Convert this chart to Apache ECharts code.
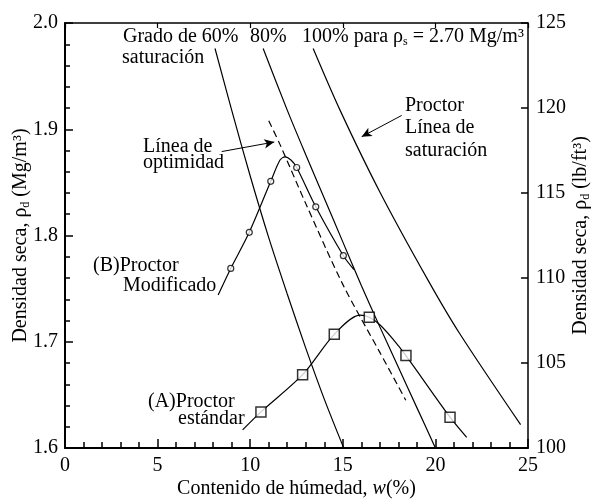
<!DOCTYPE html>
<html>
<head>
<meta charset="utf-8">
<script src="https://cdn.jsdelivr.net/npm/echarts@6/dist/echarts.min.js"></script>
<style>
  html, body { margin: 0; padding: 0; background: #fff; }
</style>
</head>
<body>
<div id="chart" style="width: 595px; height: 504px;"></div>
<script>
// curvas de saturacion (Gs = 2.70)
const sat60 = [[8.1, 1.976], [9.0, 1.918], [10.0, 1.856], [11.0, 1.798], [12.0, 1.745], [13.0, 1.694], [14.0, 1.646], [15.05, 1.600]];
const sat80 = [[10.7, 1.976], [12.0, 1.918], [13.0, 1.876], [14.0, 1.835], [15.0, 1.794], [16.0, 1.753], [17.0, 1.714], [18.0, 1.676], [19.0, 1.638], [20.0, 1.600]];
const sat100 = [[13.4, 1.976], [14.85, 1.918], [17.0, 1.841], [19.6, 1.758], [21.3, 1.708], [24.6, 1.622]];

// linea de optimos (discontinua)
const optimo = [[11.0, 1.908], [11.6, 1.886], [13.0, 1.830], [15.0, 1.754], [17.0, 1.690], [18.4, 1.645]];

// (B) Proctor modificado
const modCurve = [[8.27, 1.744], [8.95, 1.769], [9.95, 1.803], [11.11, 1.851], [11.61, 1.871], [11.88, 1.874], [12.2, 1.871], [12.51, 1.864], [13.54, 1.827], [15.03, 1.781], [15.6, 1.768]];
const modPoints = [[8.95, 1.769], [9.95, 1.803], [11.11, 1.851], [12.51, 1.864], [13.54, 1.827], [15.03, 1.781]];

// (A) Proctor estandar
const stdCurve = [[9.59, 1.617], [10.58, 1.634], [12.83, 1.669], [14.54, 1.707], [15.93, 1.725], [16.43, 1.723], [17.0, 1.716], [17.73, 1.702], [18.41, 1.687], [20.79, 1.629], [21.69, 1.610]];
const stdPoints = [[10.58, 1.634], [12.83, 1.669], [14.54, 1.707], [16.43, 1.723], [18.41, 1.687], [20.79, 1.629]];

// flechas de las anotaciones (coordenadas de datos)
const arrowSat = [[18.18, 1.913], [16.02, 1.893]];
const arrowOpt = [[8.46, 1.879], [11.3, 1.888]];

const FONT = '"Liberation Serif", "DejaVu Serif", serif';

const chart = echarts.init(document.getElementById('chart'));

function curve(name, data, extra) {
    return Object.assign({
        name: name,
        type: 'line',
        data: data,
        smooth: 0.3,
        symbol: 'none',
        silent: true,
        animation: false,
        lineStyle: { color: '#000', width: 1.2 }
    }, extra || {});
}

function txt(x, y, text) {
    return {
        type: 'text',
        x: x,
        y: y,
        silent: true,
        z: 10,
        style: {
            text: text,
            fill: '#000',
            font: '20px ' + FONT,
            verticalAlign: 'middle',
            rich: {
                s: { fontSize: 12, fontFamily: FONT, padding: [10, 0, 0, 0] }
            }
        }
    };
}

const option = {
    animation: false,
    backgroundColor: '#fff',
    grid: { left: 65, right: 67, top: 23, bottom: 56, containLabel: false, outerBoundsMode: 'none' },
    xAxis: [
        {
            type: 'value',
            min: 0,
            max: 25,
            interval: 5,
            name: 'Contenido de húmedad, {i|w}(%)',
            nameLocation: 'middle',
            nameGap: 31,
            nameMoveOverlap: false,
            nameTextStyle: {
                color: '#000', fontSize: 20, fontFamily: FONT,
                rich: { i: { fontStyle: 'italic', fontSize: 20, fontFamily: FONT } }
            },
            axisLine: { onZero: false, lineStyle: { color: '#000', width: 2 } },
            axisTick: { show: true, inside: true, length: 9, lineStyle: { color: '#000', width: 1.5 } },
            minorTick: { show: true, splitNumber: 5, length: 6, lineStyle: { color: '#000', width: 1.5 } },
            axisLabel: { color: '#000', fontSize: 20, fontFamily: FONT, margin: 8 },
            splitLine: { show: false }
        },
        {
            type: 'value',
            position: 'top',
            min: 0,
            max: 25,
            interval: 5,
            axisLine: { onZero: false, lineStyle: { color: '#000', width: 1.5 } },
            axisTick: { show: true, inside: true, length: 5, lineStyle: { color: '#000', width: 1.2 } },
            axisLabel: { show: false },
            splitLine: { show: false }
        }
    ],
    yAxis: [
        {
            type: 'value',
            min: 1.6,
            max: 2.0,
            interval: 0.1,
            name: 'Densidad seca, ρ{s|d} (Mg/m³)',
            nameLocation: 'middle',
            nameGap: 33,
            nameMoveOverlap: false,
            nameTextStyle: {
                color: '#000', fontSize: 20, fontFamily: FONT,
                rich: { s: { fontSize: 12, fontFamily: FONT, padding: [10, 0, 0, 0] } }
            },
            axisLine: { onZero: false, lineStyle: { color: '#000', width: 2 } },
            axisTick: { inside: true, length: 8, lineStyle: { color: '#000', width: 1.5 } },
            minorTick: { show: true, splitNumber: 5, length: 5, lineStyle: { color: '#000', width: 1.5 } },
            axisLabel: {
                color: '#000', fontSize: 20, fontFamily: FONT, margin: 7,
                formatter: v => v.toFixed(1)
            },
            splitLine: { show: false }
        },
        {
            type: 'value',
            position: 'right',
            min: 100,
            max: 125,
            interval: 5,
            name: 'Densidad seca, ρ{s|d} (lb/ft³)',
            nameLocation: 'middle',
            nameGap: 42,
            nameRotate: 90,
            nameMoveOverlap: false,
            nameTextStyle: {
                color: '#000', fontSize: 20, fontFamily: FONT,
                rich: { s: { fontSize: 12, fontFamily: FONT, padding: [10, 0, 0, 0] } }
            },
            axisLine: { onZero: false, lineStyle: { color: '#000', width: 1.5 } },
            axisTick: { inside: true, length: 7, lineStyle: { color: '#000', width: 1.5 } },
            axisLabel: { color: '#000', fontSize: 20, fontFamily: FONT, margin: 8 },
            splitLine: { show: false }
        }
    ],
    series: [
        curve('60%', sat60),
        curve('80%', sat80),
        curve('100%', sat100, {
            markLine: {
                silent: true,
                animation: false,
                symbol: ['none', 'arrow'],
                symbolSize: [7, 10],
                label: { show: false },
                lineStyle: { color: '#000', width: 1, type: 'solid' },
                data: [
                    [{ coord: arrowSat[0] }, { coord: arrowSat[1] }],
                    [{ coord: arrowOpt[0] }, { coord: arrowOpt[1] }]
                ]
            }
        }),
        curve('Línea de optimidad', optimo, { lineStyle: { color: '#000', width: 1.2, type: [7, 4] } }),
        curve('Proctor Modificado', modCurve),
        curve('Proctor estándar', stdCurve),
        {
            name: 'B puntos',
            type: 'scatter',
            data: modPoints,
            symbol: 'circle',
            symbolSize: 6,
            silent: true,
            itemStyle: { color: '#fff', borderColor: '#000', borderWidth: 1.2 },
            z: 5
        },
        {
            name: 'A puntos',
            type: 'scatter',
            data: stdPoints,
            symbol: 'rect',
            symbolSize: 10,
            silent: true,
            itemStyle: { color: '#fff', borderColor: '#000', borderWidth: 1.5 },
            z: 5
        }
    ],
    graphic: [
        txt(123, 37, 'Grado de 60%'),
        txt(122, 58, 'saturación'),
        txt(250, 37, '80%'),
        txt(302, 37, '100% para ρ{s|s} = 2.70 Mg/m³'),
        txt(405, 106, 'Proctor'),
        txt(405, 128, 'Línea de'),
        txt(405, 151, 'saturación'),
        txt(143, 147, 'Línea de'),
        txt(143, 163, 'optimidad'),
        txt(93, 266, '(B)Proctor'),
        txt(123, 286, 'Modificado'),
        txt(148, 402, '(A)Proctor'),
        txt(178, 419, 'estándar')
    ]
};

chart.setOption(option);
</script>
</body>
</html>
